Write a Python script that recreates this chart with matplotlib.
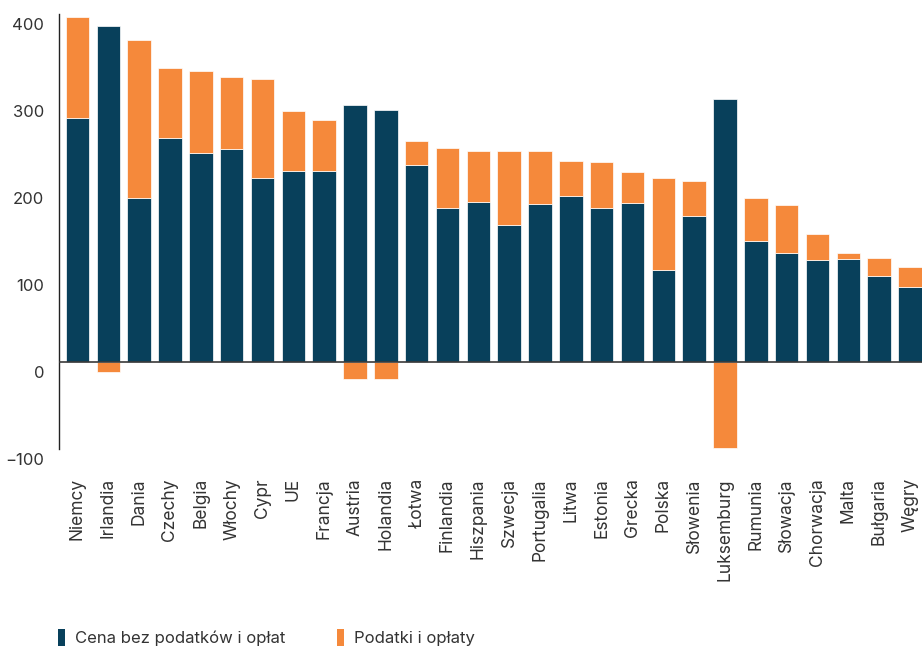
import matplotlib
matplotlib.use("Agg")
import matplotlib.pyplot as plt
import matplotlib.transforms as mtransforms
import numpy as np
from matplotlib.patches import Patch

COUNTRIES = ["Niemcy", "Irlandia", "Dania", "Czechy", "Belgia", "Włochy", "Cypr",
             "UE", "Francja", "Austria", "Holandia", "Łotwa", "Finlandia", "Hiszpania",
             "Szwecja", "Portugalia", "Litwa", "Estonia", "Grecka", "Polska",
             "Słowenia", "Luksemburg", "Rumunia", "Słowacja", "Chorwacja", "Malta",
             "Bułgaria", "Węgry"]
# cena bez podatków i opłat
PRICE = [281, 386, 188, 257, 240, 245, 211, 219, 220, 295, 290, 226, 177, 184,
         157, 182, 191, 177, 183, 106, 168, 302, 139, 125, 117, 118, 99, 86]
# podatki i opłaty (ujemne = dopłaty)
TAXES = [116, -12, 182, 81, 95, 82, 114, 70, 58, -20, -19, 28, 69, 59,
         86, 60, 40, 53, 35, 105, 40, -99, 49, 56, 30, 7, 20, 23]

DARK = "#08405b"
ORANGE = "#f5893b"
TEXT = "#333333"

plt.rcParams["font.family"] = ["Inter", "DejaVu Sans"]

fig = plt.figure(figsize=(9.22, 6.53), dpi=100)
ax = fig.add_axes([0.0645, 0.3124, 0.9355, 0.6662])

x = np.arange(len(COUNTRIES))
price = np.array(PRICE, dtype=float)
taxes = np.array(TAXES, dtype=float)
tax_bottom = np.where(taxes >= 0, price, 0)

w = 0.765
ax.bar(x, price, width=w, color=DARK, edgecolor="white", linewidth=0.5,
       label="Cena bez podatków i opłat", zorder=2)
ax.bar(x, taxes, width=w, bottom=tax_bottom, color=ORANGE, edgecolor="white",
       linewidth=0.5, label="Podatki i opłaty", zorder=2)

ax.axhline(0, color="#3a3a3a", lw=1.2, zorder=3)

ax.set_ylim(-100, 400)
ax.set_xlim(-0.584, 27.39)
ax.set_yticks([-100, 0, 100, 200, 300, 400])
ax.set_xticks(x)
ax.set_xticklabels(COUNTRIES, rotation=90, fontsize=12.5, color=TEXT)
ax.tick_params(axis="x", length=0, pad=21)
ax.tick_params(axis="y", length=0, pad=11, labelsize=12, labelcolor=TEXT)

# y labels sit a little below their value
offset = mtransforms.ScaledTranslation(0, -0.10, fig.dpi_scale_trans)
for lbl in ax.get_yticklabels():
    lbl.set_transform(lbl.get_transform() + offset)

for s in ["top", "right", "bottom"]:
    ax.spines[s].set_visible(False)
ax.spines["left"].set_color("#222222")
ax.spines["left"].set_linewidth(1.0)

handles = [Patch(facecolor=DARK, edgecolor="none"),
           Patch(facecolor=ORANGE, edgecolor="none")]
fig.legend(handles, ["Cena bez podatków i opłat", "Podatki i opłaty"],
           loc="lower left", bbox_to_anchor=(0.047, -0.012), ncol=2, frameon=False,
           handlelength=0.42, handleheight=1.2, handletextpad=0.6,
           columnspacing=3.1, fontsize=12, labelcolor=TEXT)

fig.savefig("out.png", dpi=100)
